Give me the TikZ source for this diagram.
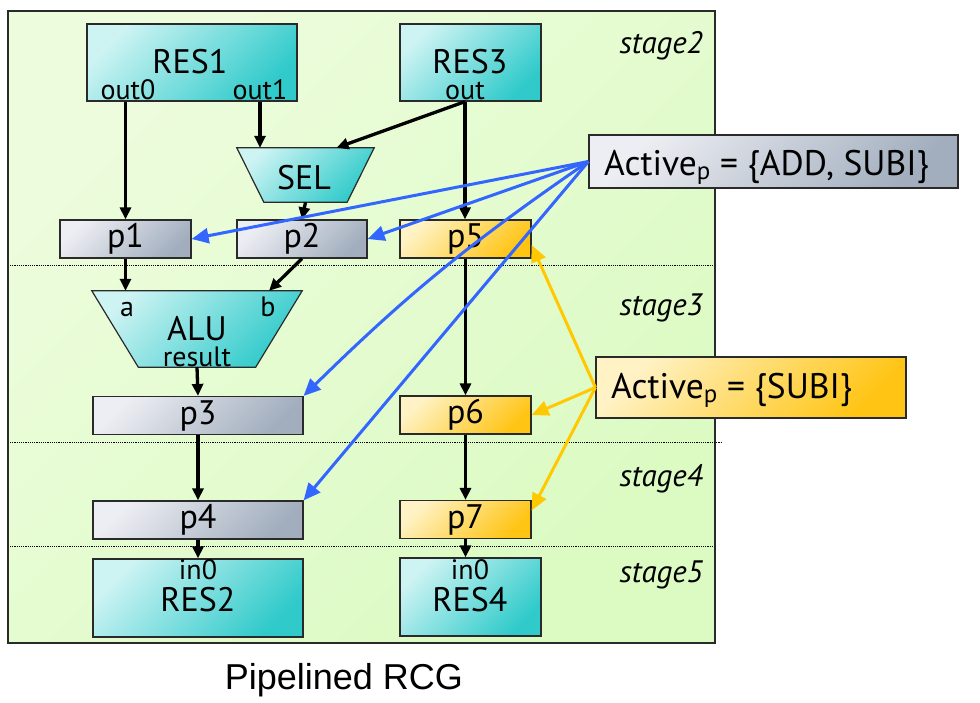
\documentclass[tikz,border=0pt]{standalone}
\usepackage{fontspec}
\setmainfont{PT Sans}
\newfontfamily\titlefont{Liberation Sans}
\usetikzlibrary{arrows.meta,calc}

\definecolor{panelL}{HTML}{EDFCDD}
\definecolor{panelD}{HTML}{DBFBC2}
\definecolor{cyanL}{HTML}{CDF3F3}
\definecolor{cyanD}{HTML}{30CACA}
\definecolor{grayL}{HTML}{EDEEF3}
\definecolor{grayD}{HTML}{A2AEBE}
\definecolor{orgL}{HTML}{FFF2C4}
\definecolor{orgD}{HTML}{FFC414}
\definecolor{actblue}{HTML}{3366FF}
\definecolor{actyel}{HTML}{FFC800}
\definecolor{edge}{HTML}{2A2A2A}

\begin{document}
\begin{tikzpicture}[x=1pt,y=-1pt,
  big/.style={font=\fontsize{34pt}{38pt}\selectfont},
  port/.style={font=\fontsize{28pt}{32pt}\selectfont, inner sep=0pt},
  stagelbl/.style={font=\itshape\fontsize{31pt}{36pt}\selectfont, anchor=base east, inner sep=0pt},
  unit/.style={draw=edge, line width=1.2pt, inner sep=0pt},
  cyanfill/.style={top color=cyanL, bottom color=cyanD, shading angle=45},
  resbox/.style={unit, cyanfill},
  regbox/.style={unit, top color=grayL, bottom color=grayD, shading angle=45, minimum height=38pt},
  ctlbox/.style={unit, top color=orgL, bottom color=orgD, shading angle=45, minimum height=38pt},
  muxframe/.style={inner sep=0pt},
  acttext/.style={anchor=base west, inner sep=0pt, font=\fontsize{35.5pt}{40pt}\selectfont},
  flow/.style={line width=3.3pt, -{Triangle[length=12pt,width=11pt]}},
  ctrlB/.style={draw=actblue, line width=3pt, -{Triangle[length=17pt,width=15pt]}},
  ctrlY/.style={draw=actyel, line width=3pt, -{Triangle[length=17pt,width=15pt]}},
  sep/.style={line width=0.9pt, dash pattern=on 1.1pt off 1.1pt}
]
\useasboundingbox (0,0) rectangle (980,702);

% pipeline panel and stage separators
\path[draw=edge, line width=1.3pt, top color=panelL, bottom color=panelD, shading angle=45]
  (8,11) rectangle (715,643);
\draw[sep] (10,265) -- (714,265);
\draw[sep] (10,442) -- (721,442);
\draw[sep] (10,546) -- (714,546);

\node[stagelbl] at (703,53) {stage2};
\node[stagelbl] at (703,315) {stage3};
\node[stagelbl] at (703,486) {stage4};
\node[stagelbl] at (703,582) {stage5};

% resources
\node[resbox, minimum width=210pt, minimum height=77pt] (res1) at (192,62.5) {};
\node[big, anchor=base, inner sep=0pt] at (190,73) {RES1};
\node[port, anchor=base] (o0) at (128,99.5) {out0};
\node[port, anchor=base] (o1) at (260,99.5) {out1};

\node[resbox, minimum width=141pt, minimum height=77pt] (res3) at (470.5,62.5) {};
\node[big, anchor=base, inner sep=0pt] at (470,73) {RES3};
\node[port, anchor=base] (o3) at (465,99.5) {out};

\node[resbox, minimum width=210pt, minimum height=78pt] (res2) at (198,598) {};
\node[port, anchor=base] (i2) at (198,579) {in0};
\node[big, anchor=base, inner sep=0pt] at (198,611) {RES2};

\node[resbox, minimum width=141pt, minimum height=78pt] (res4) at (470.5,597) {};
\node[port, anchor=base] (i4) at (470,579) {in0};
\node[big, anchor=base, inner sep=0pt] at (470,611) {RES4};

% selector and ALU: frames name them, trapezoids are drawn inside
\node[muxframe, minimum width=137pt, minimum height=54pt] (sel) at (305.5,175) {};
\path[unit, cyanfill] (sel.north west) -- (sel.north east)
  -- ([xshift=-27pt]sel.south east) -- ([xshift=27pt]sel.south west) -- cycle;
\node[big, anchor=base, inner sep=0pt] at (304,189) {SEL};

\node[muxframe, minimum width=210pt, minimum height=76pt] (alu) at (197,329) {};
\path[unit, cyanfill] (alu.north west) -- (alu.north east)
  -- ([xshift=-46.5pt]alu.south east) -- ([xshift=46.5pt]alu.south west) -- cycle;
\node[port, anchor=base] at (127,316) {a};
\node[port, anchor=base] at (268,316) {b};
\node[big, anchor=base, inner sep=0pt] at (197,340) {ALU};
\node[port, anchor=base] at (197,366) {result};

% pipeline registers
\node[regbox, minimum width=131pt, big] (p1) at (125.5,239) {p1};
\node[regbox, minimum width=130pt, big] (p2) at (302,239) {p2};
\node[ctlbox, minimum width=131pt, big] (p5) at (465.5,239) {p5};
\node[regbox, minimum width=210pt, big] (p3) at (198,415.5) {p3};
\node[ctlbox, minimum width=131pt, big] (p6) at (465.5,415) {p6};
\node[regbox, minimum width=210pt, big] (p4) at (198,520) {p4};
\node[ctlbox, minimum width=131pt, big] (p7) at (465.5,519.5) {p7};

% activation sets
\node[unit, top color=grayL, bottom color=grayD, shading angle=45,
      minimum width=369pt, minimum height=53pt] (act1) at (773.5,161.5) {};
\node[acttext] at (604,175) {Active\textsubscript{p} = \{ADD, SUBI\}};
\node[unit, top color=orgL, bottom color=orgD, shading angle=45,
      minimum width=310pt, minimum height=61pt] (act2) at (751,387.5) {};
\node[acttext] at (611,398) {Active\textsubscript{p} = \{SUBI\}};

% data flow
\draw[flow] (res1.south -| p1.north) -- (p1.north);
\draw[flow] (res1.south -| o1) -- (sel.north -| o1);
\draw[flow] (res3.south -| o3) -- ([xshift=31pt]sel.north);
\draw[flow] (res3.south -| o3) -- (p5.north -| o3);
\draw[flow] (sel.south) -- (p2.north);
\draw[flow] (p1.south) -- (alu.north -| p1.south);
\draw[flow] (p2.south) -- ([xshift=72pt]alu.north);
\draw[flow] (alu.south) -- (p3.north);
\draw[flow] (p3.south) -- (p4.north);
\draw[flow] (p4.south) -- (res2.north);
\draw[flow] (p5.south) -- (p6.north);
\draw[flow] (p6.south) -- (p7.north);
\draw[flow] (p7.south) -- (res4.north -| p7.south);

% control signals
\draw[ctrlB] (act1.west) -- (p1.east);
\draw[ctrlB] (act1.west) -- (p2.east);
\draw[ctrlB] (act1.west) to[bend right=5] (p3.north east);
\draw[ctrlB] (act1.west) -- (p4.north east);
\draw[ctrlY] (act2.west) -- ([yshift=-6pt]p5.east);
\draw[ctrlY] (act2.west) -- (p6.east);
\draw[ctrlY] (act2.west) -- ([yshift=9pt]p7.east);

\node[font=\titlefont\fontsize{36pt}{40pt}\selectfont, anchor=base] at (344,689) {Pipelined RCG};
\end{tikzpicture}
\end{document}
